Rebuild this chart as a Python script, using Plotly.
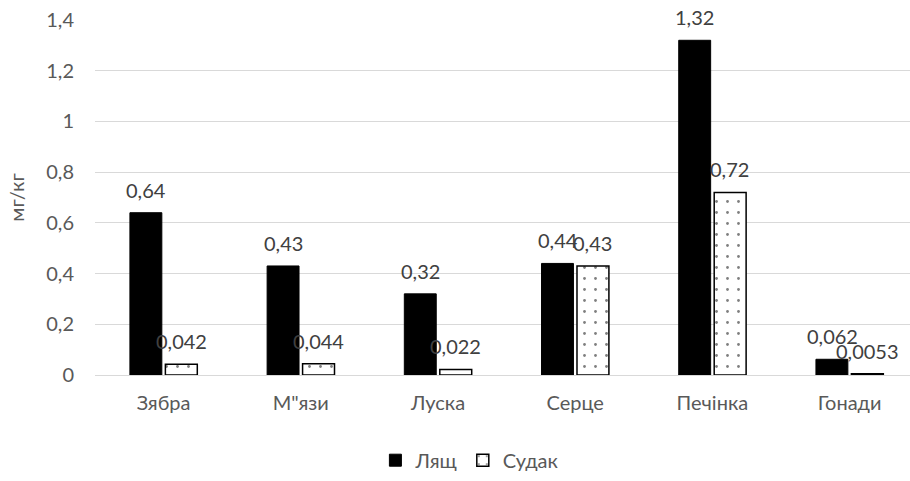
import plotly.graph_objects as go

categories = ["Зябра", "М\"язи", "Луска", "Серце", "Печінка", "Гонади"]
lyashch = [0.64, 0.43, 0.32, 0.44, 1.32, 0.062]
sudak = [0.042, 0.044, 0.022, 0.43, 0.72, 0.0053]
lyashch_labels = ["0,64", "0,43", "0,32", "0,44", "1,32", "0,062"]
sudak_labels = ["0,042", "0,044", "0,022", "0,43", "0,72", "0,0053"]
y_ticks = [0, 0.2, 0.4, 0.6, 0.8, 1, 1.2, 1.4]

FONT = "Lato"
TXT = "#595959"
LBL = "#404040"
FS = 20

fig = go.Figure()
fig.add_trace(go.Bar(
    name="Лящ", x=categories, y=lyashch,
    marker=dict(color="black", line=dict(color="black", width=1)),
))
fig.add_trace(go.Bar(
    name="Судак", x=categories, y=sudak,
    marker=dict(color="white", line=dict(color="black", width=1.5),
                pattern=dict(shape=".", fgcolor="black", bgcolor="white",
                             size=11, solidity=0.05)),
))

# data labels, positioned above each bar through the axes
for cat, v, t in zip(categories, lyashch, lyashch_labels):
    fig.add_annotation(x=cat, y=v, text=t, showarrow=False, xref="x", yref="y",
                       xanchor="center", yanchor="bottom", xshift=-17.5, yshift=9,
                       font=dict(family=FONT, size=FS, color=LBL))
for cat, v, t in zip(categories, sudak, sudak_labels):
    fig.add_annotation(x=cat, y=v, text=t, showarrow=False, xref="x", yref="y",
                       xanchor="center", yanchor="bottom", xshift=17.5, yshift=9,
                       font=dict(family=FONT, size=FS, color=LBL))

fig.update_layout(
    width=910, height=481,
    margin=dict(l=95, r=0, t=20, b=106, autoexpand=False),
    paper_bgcolor="white", plot_bgcolor="white",
    separators=", ",
    barmode="group", bargap=0.483, bargroupgap=0.1,
    font=dict(family=FONT, size=FS, color=TXT),
    showlegend=True,
    legend=dict(orientation="h", x=0.46, xanchor="center", y=-0.24, yanchor="middle",
                font=dict(family=FONT, size=FS, color=TXT), itemwidth=30,
                traceorder="normal"),
)
fig.update_xaxes(range=[-0.5, 5.44], showgrid=False, showline=False, ticks="",
                 automargin=False,
                 ticklabelstandoff=14, tickfont=dict(family=FONT, size=FS, color=TXT))
fig.update_yaxes(range=[0, 1.4], tickvals=y_ticks, showgrid=True, gridcolor="#d9d9d9",
                 gridwidth=1, zeroline=True, zerolinecolor="#d9d9d9", zerolinewidth=1,
                 showline=False, ticks="", ticklabelstandoff=20, automargin=False,
                 tickfont=dict(family=FONT, size=FS, color=TXT),
                 title=dict(text="мг/кг", font=dict(family=FONT, size=FS, color=TXT), standoff=16))

fig.write_html("out.html", config={"displayModeBar": False},
               post_script="document.body.style.margin='0';")
